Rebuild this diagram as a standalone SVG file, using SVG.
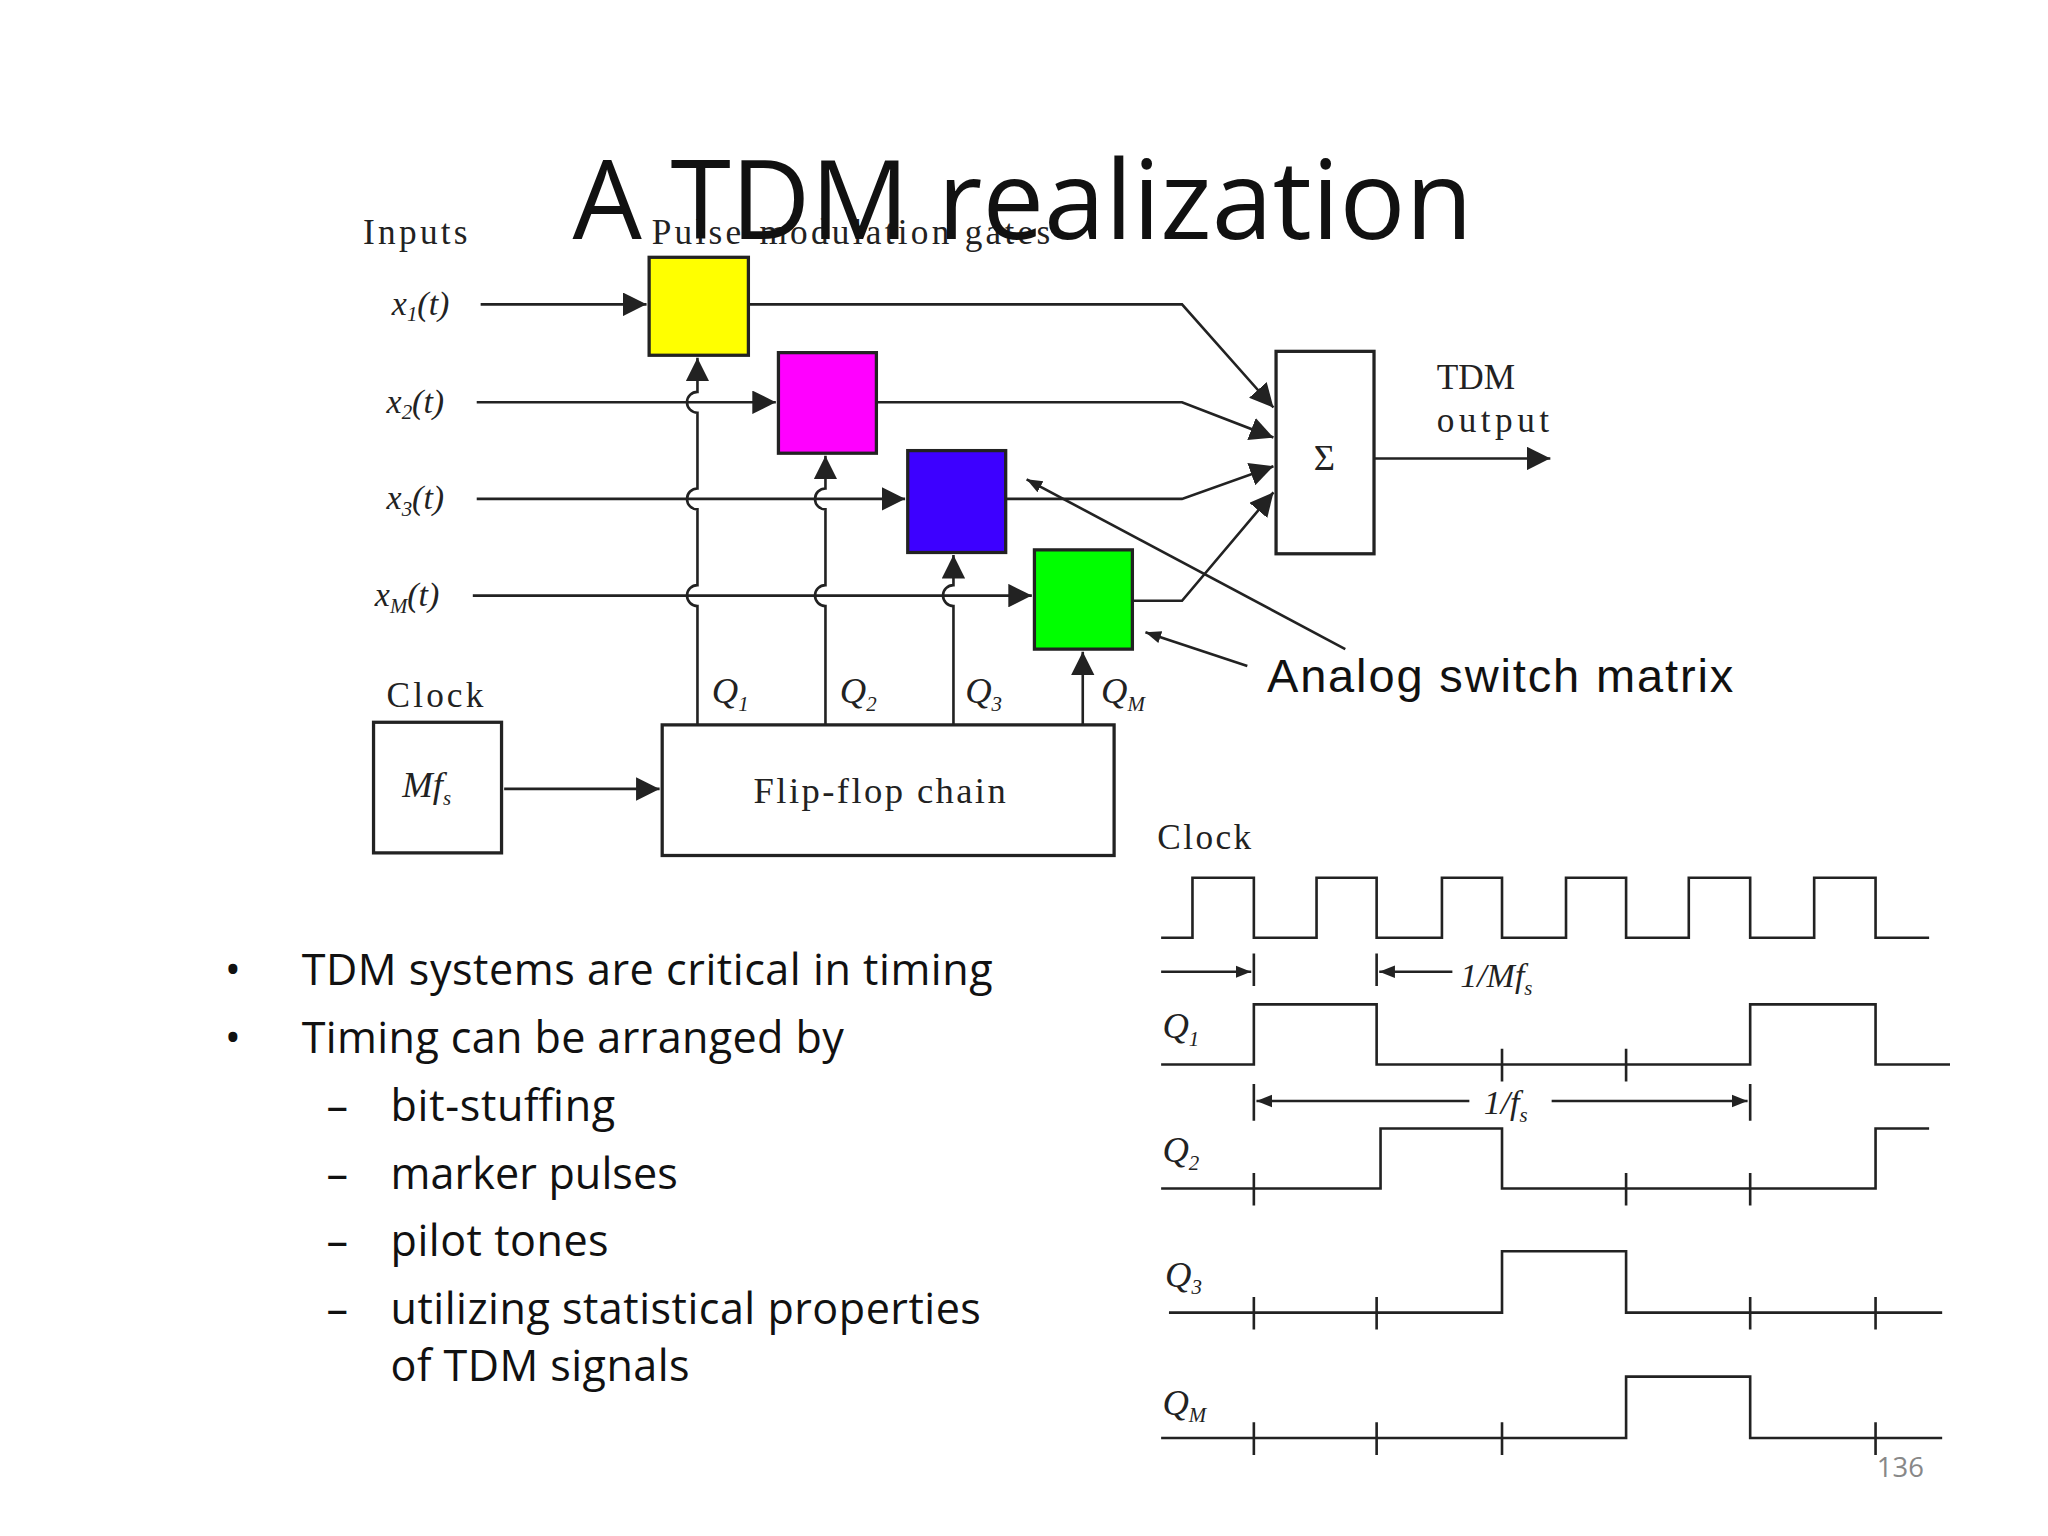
<svg xmlns="http://www.w3.org/2000/svg" width="2048" height="1536" viewBox="0 0 2048 1536">
<defs>
<marker id="ah" viewBox="0 0 10 10" refX="10" refY="5" markerWidth="18" markerHeight="18" markerUnits="userSpaceOnUse" orient="auto"><path d="M0,0 L10,5 L0,10 z" fill="#222"/></marker>
<marker id="ahs" viewBox="0 0 10 10" refX="10" refY="5" markerWidth="12" markerHeight="12" markerUnits="userSpaceOnUse" orient="auto"><path d="M0,1 L10,5 L0,9 z" fill="#222"/></marker>
</defs>
<style>
.l{stroke:#222;stroke-width:2;fill:none}
.b{stroke:#222;stroke-width:2.5}
.s{font-family:"Liberation Serif",serif;fill:#222}
.i{font-family:"Liberation Serif",serif;font-style:italic;fill:#222}
.c{font-family:"Open Sans","Noto Sans",sans-serif;fill:#111}
</style>
<rect width="2048" height="1536" fill="#fff"/>
<g transform="scale(1.3061)">
<g id="labels">
<text class="s" x="278" y="187" font-size="27" textLength="80">Inputs</text>
<text class="s" x="499" y="187" font-size="27" textLength="305">Pulse-modulation gates</text>
<text class="i" x="300" y="241" font-size="26">x<tspan font-size="16" dy="5">1</tspan><tspan dy="-5">(t)</tspan></text>
<text class="i" x="296" y="316" font-size="26">x<tspan font-size="16" dy="5">2</tspan><tspan dy="-5">(t)</tspan></text>
<text class="i" x="296" y="390" font-size="26">x<tspan font-size="16" dy="5">3</tspan><tspan dy="-5">(t)</tspan></text>
<text class="i" x="287" y="464" font-size="26">x<tspan font-size="16" dy="5">M</tspan><tspan dy="-5">(t)</tspan></text>
<text class="s" x="296" y="541" font-size="27" textLength="74">Clock</text>
<text class="i" x="545" y="538" font-size="28">Q<tspan font-size="16" dy="6">1</tspan></text>
<text class="i" x="643" y="538" font-size="28">Q<tspan font-size="16" dy="6">2</tspan></text>
<text class="i" x="739" y="538" font-size="28">Q<tspan font-size="16" dy="6">3</tspan></text>
<text class="i" x="843" y="538" font-size="28">Q<tspan font-size="16" dy="6">M</tspan></text>
<text class="s" x="1100" y="298" font-size="27">TDM</text>
<text class="s" x="1100" y="331" font-size="27" textLength="86">output</text>
</g>
<text class="c" x="783" y="183" font-size="84" text-anchor="middle">A TDM realization</text>
<g id="gate1"><rect x="497" y="197" width="76" height="75" fill="#ffff00" class="b"/></g>
<g id="gate2"><rect x="596" y="270" width="75" height="77" fill="#ff00ff" class="b"/></g>
<g id="gate3"><rect x="695" y="345" width="75" height="78" fill="#3d00ff" class="b"/></g>
<g id="gateM"><rect x="792" y="421" width="75" height="76" fill="#00ff00" class="b"/></g>
<g id="sum"><rect x="977" y="269" width="75" height="155" fill="#fff" class="b"/><text class="s" x="1014" y="360" font-size="28" text-anchor="middle">Σ</text></g>
<g id="clock"><rect x="286" y="553" width="98" height="100" fill="#fff" class="b"/><text class="i" x="308" y="610" font-size="28">Mf<tspan font-size="16" dy="6">s</tspan></text></g>
<g id="ff"><rect x="507" y="555" width="346" height="100" fill="#fff" class="b"/><text class="s" x="577" y="615" font-size="28" textLength="193">Flip-flop chain</text></g>
<g id="connectors">
<path class="l" d="M368,233 H495" marker-end="url(#ah)"/>
<path class="l" d="M365,308 H594" marker-end="url(#ah)"/>
<path class="l" d="M365,382 H693" marker-end="url(#ah)"/>
<path class="l" d="M362,456 H790" marker-end="url(#ah)"/>
<path class="l" d="M534,555 V464 a8,8 0 0 1 0,-16 V390 a8,8 0 0 1 0,-16 V316 a8,8 0 0 1 0,-16 V274" marker-end="url(#ah)"/>
<path class="l" d="M632,555 V464 a8,8 0 0 1 0,-16 V390 a8,8 0 0 1 0,-16 V349" marker-end="url(#ah)"/>
<path class="l" d="M730,555 V464 a8,8 0 0 1 0,-16 V425" marker-end="url(#ah)"/>
<path class="l" d="M829,555 V499" marker-end="url(#ah)"/>
<path class="l" d="M573,233 H905 L975,312" marker-end="url(#ah)"/>
<path class="l" d="M671,308 H905 L975,335" marker-end="url(#ah)"/>
<path class="l" d="M770,382 H905 L975,357" marker-end="url(#ah)"/>
<path class="l" d="M867,460 H905 L975,377" marker-end="url(#ah)"/>
<path class="l" d="M1052,351 H1187" marker-end="url(#ah)"/>
<path class="l" d="M386,604 H505" marker-end="url(#ah)"/>
<path class="l" d="M1030,497 L786,367" marker-end="url(#ahs)"/>
<path class="l" d="M955,510 L877,484" marker-end="url(#ahs)"/>
</g>
<text x="970" y="530" font-family="Liberation Sans,Arial,sans-serif" font-size="36" fill="#111" textLength="357">Analog switch matrix</text>
<g id="bullets" class="c" font-size="33">
<text x="172" y="754">•</text><text x="231" y="754" textLength="529">TDM systems are critical in timing</text>
<text x="172" y="806">•</text><text x="231" y="806" textLength="415">Timing can be arranged by</text>
<text x="250" y="858">–</text><text x="299" y="858" textLength="172">bit-stuffing</text>
<text x="250" y="910">–</text><text x="299" y="910" textLength="220">marker pulses</text>
<text x="250" y="962">–</text><text x="299" y="962" textLength="167">pilot tones</text>
<text x="250" y="1014">–</text><text x="299" y="1014" textLength="452">utilizing statistical properties</text>
<text x="299" y="1057" textLength="229">of TDM signals</text>
</g>
<g id="timing">
<text class="s" x="886" y="650" font-size="27" textLength="72">Clock</text>
<path class="l" d="M889,718 H913 V672 H960 V718 H1008 V672 H1054 V718 H1104 V672 H1150 V718 H1199 V672 H1245 V718 H1293 V672 H1340 V718 H1389 V672 H1436 V718 H1477"/>
<path class="l" d="M889,744 H958" marker-end="url(#ahs)"/>
<path class="l" d="M960,730 V755 M1054,730 V755"/>
<path class="l" d="M1112,744 H1056" marker-end="url(#ahs)"/>
<text class="i" x="1118" y="756" font-size="26">1/Mf<tspan font-size="16" dy="6">s</tspan></text>
<text class="i" x="890" y="795" font-size="28">Q<tspan font-size="16" dy="6">1</tspan></text>
<path class="l" d="M889,815 H960 V769 H1054 V815 H1340 V769 H1436 V815 H1493 M1150,803 V828 M1245,803 V828"/>
<path class="l" d="M960,830 V858 M1340,830 V858"/>
<path class="l" d="M1125,843 H962" marker-end="url(#ahs)"/>
<path class="l" d="M1188,843 H1338" marker-end="url(#ahs)"/>
<text class="i" x="1136" y="853" font-size="26">1/f<tspan font-size="16" dy="6">s</tspan></text>
<text class="i" x="890" y="890" font-size="28">Q<tspan font-size="16" dy="6">2</tspan></text>
<path class="l" d="M889,910 H1057 V864 H1150 V910 H1436 V864 H1477 M960,898 V923 M1245,898 V923 M1340,898 V923"/>
<text class="i" x="892" y="985" font-size="28">Q<tspan font-size="16" dy="6">3</tspan></text>
<path class="l" d="M895,1005 H1150 V958 H1245 V1005 H1487 M960,993 V1018 M1054,993 V1018 M1340,993 V1018 M1436,993 V1018"/>
<text class="i" x="890" y="1083" font-size="28">Q<tspan font-size="16" dy="6">M</tspan></text>
<path class="l" d="M889,1101 H1245 V1054 H1340 V1101 H1487 M960,1089 V1114 M1054,1089 V1114 M1150,1089 V1114 M1436,1089 V1114"/>
</g>
<text class="c" x="1455" y="1131" font-size="21" text-anchor="middle" style="fill:#888">136</text>
</g>
</svg>
